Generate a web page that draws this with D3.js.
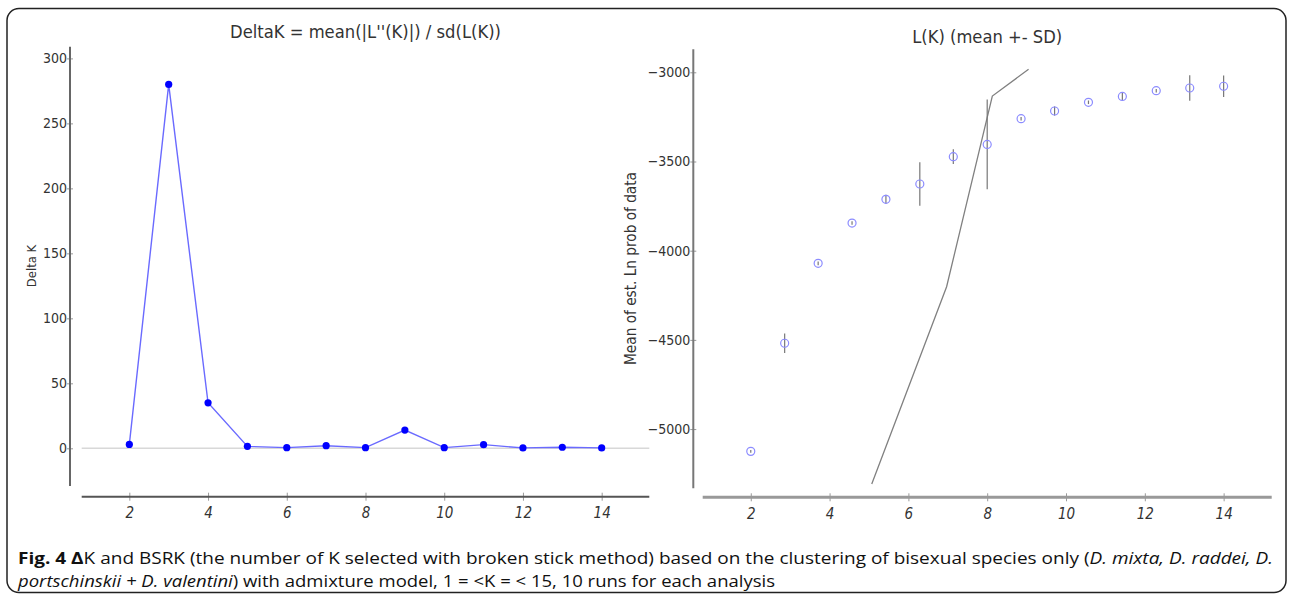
<!DOCTYPE html>
<html>
<head>
<meta charset="utf-8">
<script src="https://cdn.jsdelivr.net/npm/d3@7"></script>
<style>
  body { margin: 0; background: #fff; }
  svg { display: block; }
  text { font-family: "DejaVu Sans Condensed", "DejaVu Sans", sans-serif; fill: #333; }
  .caption { font-family: "Open Sans", "Noto Sans", sans-serif; fill: #111; }
</style>
</head>
<body>
<svg id="chart" width="1292" height="597"></svg>
<script>
// DeltaK panel
const deltaK = [2, 3, 4, 5, 6, 7, 8, 9, 10, 11, 12, 13, 14];
const deltaValues = [3, 280, 35, 1.5, 0.5, 2, 0.5, 14, 0.5, 2.8, 0.3, 0.8, 0.3];
const deltaTicks = [0, 50, 100, 150, 200, 250, 300];

// L(K) panel (points sit at these x positions in the original plot)
const lkPos = [2, 2.86, 3.71, 4.57, 5.43, 6.29, 7.14, 8, 8.86, 9.71, 10.57, 11.43, 12.29, 13.14, 14];
const lkMean = [-5125, -4519, -4071, -3845, -3712, -3626, -3473, -3404, -3260, -3217, -3168, -3135, -3103, -3088, -3078];
const lkSd = [8, 55, 10, 10, 25, 122, 41, 252, 10, 26, 10, 24, 10, 72, 60];
const lkTicks = [-5000, -4500, -4000, -3500, -3000];

// broken stick line
const stickK = [5.07, 6.97, 8.13, 9.05];
const stickL = [-5308, -4202, -3133, -2983];

const xTicks = [2, 4, 6, 8, 10, 12, 14];

const svg = d3.select("#chart");

// frame
svg.append("rect")
  .attr("x", 7).attr("y", 8.5)
  .attr("width", 1279).attr("height", 584)
  .attr("rx", 12)
  .attr("fill", "none")
  .attr("stroke", "#222")
  .attr("stroke-width", 1.5);

function fitWidth(sel, target) {
  const w = sel.node().getComputedTextLength();
  const fs = parseFloat(sel.style("font-size"));
  sel.style("font-size", (fs * target / w) + "px");
}

function drawAxes(g, x, y, o) {
  // y spine and ticks
  const ya = g.append("g")
    .attr("transform", "translate(" + o.yAxisX + ",0)")
    .call(d3.axisLeft(y).tickValues(o.yTicks).tickSizeInner(3).tickSizeOuter(0).tickPadding(1)
      .tickFormat(d3.format("d")));
  ya.select(".domain").remove();
  ya.selectAll(".tick line").attr("stroke", "#999").attr("x2", 3).attr("x1", -3);
  ya.selectAll(".tick text").style("font-size", "14px").attr("fill", "#333").attr("x", -3);
  g.append("line")
    .attr("x1", o.yAxisX).attr("x2", o.yAxisX)
    .attr("y1", y.range()[1]).attr("y2", y.range()[0])
    .attr("stroke", o.spine).attr("stroke-width", 2);

  // x spine and ticks
  const xa = g.append("g")
    .attr("transform", "translate(0," + o.xAxisY + ")")
    .call(d3.axisBottom(x).tickValues(xTicks).tickSizeInner(3).tickSizeOuter(0).tickPadding(8));
  xa.select(".domain").remove();
  xa.selectAll(".tick line").attr("stroke", "#999").attr("y1", -4).attr("y2", 4);
  xa.selectAll(".tick text").style("font-size", "15px").style("font-style", "italic").attr("fill", "#333");
  g.append("line")
    .attr("x1", x.range()[0]).attr("x2", x.range()[1])
    .attr("y1", o.xAxisY).attr("y2", o.xAxisY)
    .attr("stroke", o.xSpine).attr("stroke-width", o.xSpineW);
}

// ---------- left panel: DeltaK ----------
const gL = svg.append("g");
const xL = d3.scaleLinear().domain([0.79, 15.21]).range([81.7, 649.3]);
const yL = d3.scaleLinear().domain([-29, 309]).range([486, 46.7]);

gL.append("line")
  .attr("x1", xL.range()[0]).attr("x2", xL.range()[1])
  .attr("y1", yL(0)).attr("y2", yL(0))
  .attr("stroke", "#d8d8d8").attr("stroke-width", 1.5);

drawAxes(gL, xL, yL, { yAxisX: 70, xAxisY: 496.7, yTicks: deltaTicks, spine: "#666", xSpine: "#555", xSpineW: 2 });

const deltaPts = deltaK.map((k, i) => [k, deltaValues[i]]);
gL.append("path")
  .datum(deltaPts)
  .attr("fill", "none")
  .attr("stroke", "#6a6aff")
  .attr("stroke-width", 1.4)
  .attr("d", d3.line().x(d => xL(d[0])).y(d => yL(d[1])));

gL.selectAll(".dot")
  .data(deltaPts)
  .enter().append("circle")
  .attr("class", "dot")
  .attr("cx", d => xL(d[0]))
  .attr("cy", d => yL(d[1]))
  .attr("r", 3.6)
  .attr("fill", "#0000ff");

const titleL = gL.append("text")
  .attr("x", (xL.range()[0] + xL.range()[1]) / 2)
  .attr("y", 38)
  .attr("text-anchor", "middle")
  .style("font-size", "15px")
  .text("DeltaK = mean(|L''(K)|) / sd(L(K))");
fitWidth(titleL, 271);

gL.append("text")
  .attr("transform", "translate(36,266) rotate(-90)")
  .attr("text-anchor", "middle")
  .style("font-size", "13px")
  .text("Delta K");

// ---------- right panel: L(K) ----------
const gR = svg.append("g");
const xR = d3.scaleLinear().domain([0.78, 15.22]).range([702.7, 1271.7]);
const yR = d3.scaleLinear().domain([-5332, -2871]).range([488.3, 49.3]);

drawAxes(gR, xR, yR, { yAxisX: 693.3, xAxisY: 497.3, yTicks: lkTicks, spine: "#777", xSpine: "#999", xSpineW: 3 });

gR.append("path")
  .datum(stickK.map((k, i) => [k, stickL[i]]))
  .attr("fill", "none")
  .attr("stroke", "#808080")
  .attr("stroke-width", 1.3)
  .attr("d", d3.line().x(d => xR(d[0])).y(d => yR(d[1])));

const lkPts = lkPos.map((p, i) => ({ x: p, m: lkMean[i], sd: lkSd[i] }));

gR.selectAll(".err")
  .data(lkPts)
  .enter().append("line")
  .attr("class", "err")
  .attr("x1", d => xR(d.x)).attr("x2", d => xR(d.x))
  .attr("y1", d => yR(d.m - d.sd)).attr("y2", d => yR(d.m + d.sd))
  .attr("stroke", "#777")
  .attr("stroke-width", 1.2);

gR.selectAll(".pt")
  .data(lkPts)
  .enter().append("circle")
  .attr("class", "pt")
  .attr("cx", d => xR(d.x))
  .attr("cy", d => yR(d.m))
  .attr("r", 4)
  .attr("fill", "none")
  .attr("stroke", "#8c8cff")
  .attr("stroke-width", 1.2);

const titleR = gR.append("text")
  .attr("x", (xR.range()[0] + xR.range()[1]) / 2)
  .attr("y", 42.5)
  .attr("text-anchor", "middle")
  .style("font-size", "15px")
  .text("L(K) (mean +- SD)");
fitWidth(titleR, 150);

const ylabR = gR.append("text")
  .attr("transform", "translate(636,268.5) rotate(-90)")
  .attr("text-anchor", "middle")
  .style("font-size", "13px")
  .text("Mean of est. Ln prob of data");
fitWidth(ylabR, 193);

// ---------- caption ----------
const cap1 = svg.append("text").attr("class", "caption")
  .attr("x", 18).attr("y", 564).style("font-size", "16.5px");
cap1.append("tspan").style("font-weight", "bold").text("Fig. 4 Δ");
cap1.append("tspan").text("K and BSRK (the number of K selected with broken stick method) based on the clustering of bisexual species only (");
cap1.append("tspan").style("font-style", "italic").text("D. mixta, D. raddei, D.");
cap1.attr("textLength", 1255).attr("lengthAdjust", "spacingAndGlyphs");

const cap2 = svg.append("text").attr("class", "caption")
  .attr("x", 18).attr("y", 587).style("font-size", "16.5px");
cap2.append("tspan").style("font-style", "italic").text("portschinskii + D. valentini");
cap2.append("tspan").text(") with admixture model, 1 = <K = < 15, 10 runs for each analysis");
cap2.attr("textLength", 757).attr("lengthAdjust", "spacingAndGlyphs");
</script>
</body>
</html>
